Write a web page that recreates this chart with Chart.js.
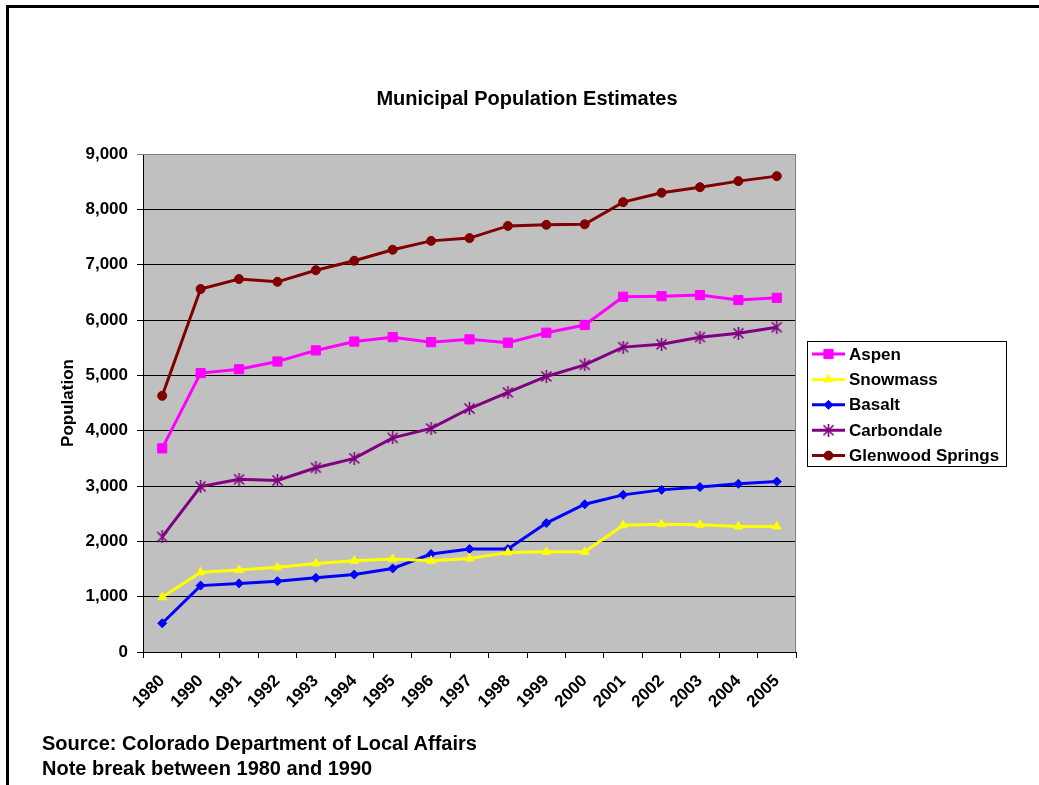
<!DOCTYPE html>
<html>
<head>
<meta charset="utf-8">
<title>Municipal Population Estimates</title>
<script src="https://cdn.jsdelivr.net/npm/chart.js"></script>
<style>
  html, body { margin: 0; padding: 0; background: #fff; }
  #wrap { position: relative; width: 1039px; height: 785px; overflow: hidden; }
  #frame { position: absolute; left: 6px; top: 5px; right: -10px; bottom: -10px;
           border-top: 3px solid #000; border-left: 3px solid #000; }
  #chart { position: absolute; left: 0; top: 0; }
  .note { position: absolute; left: 42px; font: bold 20px Arial, "Liberation Sans", sans-serif;
          line-height: 24px; color: #000; white-space: nowrap; }
</style>
</head>
<body>
<div id="wrap">
  <div id="frame"></div>
  <canvas id="chart" width="1039" height="785"></canvas>
  <div class="note" style="top:731px">Source: Colorado Department of Local Affairs</div>
  <div class="note" style="top:756px">Note break between 1980 and 1990</div>
</div>
<script>
var years = ['1980', '1990', '1991', '1992', '1993', '1994', '1995', '1996', '1997',
             '1998', '1999', '2000', '2001', '2002', '2003', '2004', '2005'];

var aspen      = [3680, 5040, 5110, 5250, 5450, 5610, 5690, 5600, 5650, 5590, 5770, 5910, 6420, 6430, 6450, 6360, 6400];
var snowmass   = [990, 1440, 1480, 1530, 1600, 1650, 1680, 1650, 1690, 1800, 1810, 1810, 2290, 2310, 2300, 2270, 2270];
var basalt     = [520, 1200, 1240, 1280, 1340, 1400, 1510, 1770, 1860, 1860, 2330, 2670, 2840, 2930, 2980, 3040, 3080];
var carbondale = [2080, 2990, 3120, 3100, 3330, 3500, 3870, 4040, 4400, 4690, 4980, 5190, 5510, 5560, 5690, 5760, 5870];
var glenwood   = [4630, 6560, 6740, 6690, 6900, 7070, 7270, 7430, 7480, 7700, 7720, 7730, 8130, 8300, 8400, 8510, 8600];

var yTicks = [0, 1000, 2000, 3000, 4000, 5000, 6000, 7000, 8000, 9000];

var FONT = 'Arial, "Liberation Sans", sans-serif';

// asterisk marker (X with a vertical bar) for Carbondale
function asterisk(color) {
    var c = document.createElement('canvas');
    c.width = 13; c.height = 13;
    var g = c.getContext('2d');
    g.strokeStyle = color;
    g.lineWidth = 1.6;
    g.beginPath();
    g.moveTo(1.5, 1.5); g.lineTo(11.5, 11.5);
    g.moveTo(11.5, 1.5); g.lineTo(1.5, 11.5);
    g.moveTo(6.5, 0); g.lineTo(6.5, 13);
    g.stroke();
    return c;
}

function series(label, data, color, style, radius) {
    return {
        label: label,
        data: data,
        borderColor: color,
        backgroundColor: color,
        pointBackgroundColor: color,
        pointBorderColor: color,
        pointBorderWidth: 1,
        borderWidth: 3,
        pointStyle: style,
        pointRadius: radius,
        tension: 0
    };
}

var datasets = [
    series('Aspen', aspen, '#FF00FF', 'rect', 6.5),
    series('Snowmass', snowmass, '#FFFF00', 'triangle', 5),
    series('Basalt', basalt, '#0000FF', 'rectRot', 4.5),
    series('Carbondale', carbondale, '#800080', asterisk('#800080'), 6),
    series('Glenwood Springs', glenwood, '#800000', 'circle', 4.5)
];

// grey plot area with a grey top/right edge
var plotArea = {
    id: 'plotArea',
    beforeDraw: function (chart) {
        var a = chart.chartArea, ctx = chart.ctx;
        ctx.save();
        ctx.fillStyle = '#C0C0C0';
        ctx.fillRect(a.left, a.top, a.right - a.left, a.bottom - a.top);
        ctx.restore();
    },
    beforeDatasetsDraw: function (chart) {
        var a = chart.chartArea, ctx = chart.ctx;
        ctx.save();
        ctx.strokeStyle = '#808080';
        ctx.lineWidth = 1;
        ctx.beginPath();
        ctx.moveTo(a.left, a.top + 0.5);
        ctx.lineTo(Math.round(a.right) - 0.5, a.top + 0.5);
        ctx.lineTo(Math.round(a.right) - 0.5, a.bottom);
        ctx.stroke();
        ctx.restore();
    }
};

// boxed legend with line + marker samples
var boxLegend = {
    id: 'boxLegend',
    afterDraw: function (chart) {
        var ctx = chart.ctx;
        ctx.save();
        ctx.strokeStyle = '#000';
        ctx.lineWidth = 1;
        ctx.strokeRect(807.5, 341.5, 199, 125);
        ctx.font = 'bold 17px ' + FONT;
        ctx.textBaseline = 'middle';
        ctx.textAlign = 'left';
        chart.data.datasets.forEach(function (ds, i) {
            var y = 354 + i * 25.4;
            ctx.strokeStyle = ds.borderColor;
            ctx.lineWidth = 3;
            ctx.beginPath();
            ctx.moveTo(812, y);
            ctx.lineTo(845, y);
            ctx.stroke();
            if (Chart.helpers && Chart.helpers.drawPoint) {
                ctx.fillStyle = ds.pointBackgroundColor;
                ctx.strokeStyle = ds.pointBorderColor;
                ctx.lineWidth = 1;
                Chart.helpers.drawPoint(ctx, {
                    pointStyle: ds.pointStyle,
                    radius: ds.pointRadius,
                    borderWidth: 1,
                    rotation: 0
                }, 828.5, y);
            }
            ctx.fillStyle = '#000';
            ctx.fillText(ds.label, 849, y + 1);
        });
        ctx.restore();
    }
};

var tickFont = { family: FONT, size: 17, weight: 'bold' };

new Chart(document.getElementById('chart'), {
    type: 'line',
    data: { labels: years, datasets: datasets },
    plugins: [plotArea, boxLegend],
    options: {
        responsive: false,
        animation: false,
        devicePixelRatio: 1,
        layout: { padding: { left: 15, right: 0, top: 87, bottom: 0 } },
        plugins: {
            legend: { display: false },
            tooltip: { enabled: false },
            title: {
                display: true,
                text: 'Municipal Population Estimates',
                color: '#000',
                font: { family: FONT, size: 20, weight: 'bold' },
                padding: { top: 0, bottom: 43 }
            }
        },
        scales: {
            x: {
                offset: true,
                grid: { offset: true, drawOnChartArea: false, drawTicks: true, tickLength: 6, color: '#000' },
                border: { color: '#000', width: 1 },
                ticks: {
                    autoSkip: false, maxRotation: 45, minRotation: 45,
                    color: '#000', padding: 13,
                    font: tickFont
                },
                afterFit: function (s) { s.height = 133; }
            },
            y: {
                min: 0, max: 9000,
                afterBuildTicks: function (s) {
                    s.ticks = yTicks.map(function (v) { return { value: v }; });
                },
                grid: {
                    drawTicks: true, tickLength: 6,
                    color: function (c) { return c.tick && c.tick.value === 9000 ? '#808080' : '#000'; }
                },
                border: { color: '#000', width: 1 },
                ticks: {
                    color: '#000', padding: 9,
                    font: tickFont,
                    callback: function (v) { return v.toLocaleString('en-US'); }
                },
                title: {
                    display: true, text: 'Population', color: '#000',
                    font: { family: FONT, size: 17, weight: 'bold' },
                    padding: { top: 43, bottom: 4 }
                },
                afterFit: function (s) { s.width = 128; }
            },
            // empty right-hand strip that holds the legend
            side: {
                type: 'linear', position: 'right', display: true,
                grid: { display: false },
                border: { display: false },
                ticks: { display: false },
                afterFit: function (s) { s.width = 243; }
            }
        }
    }
});
</script>
</body>
</html>
